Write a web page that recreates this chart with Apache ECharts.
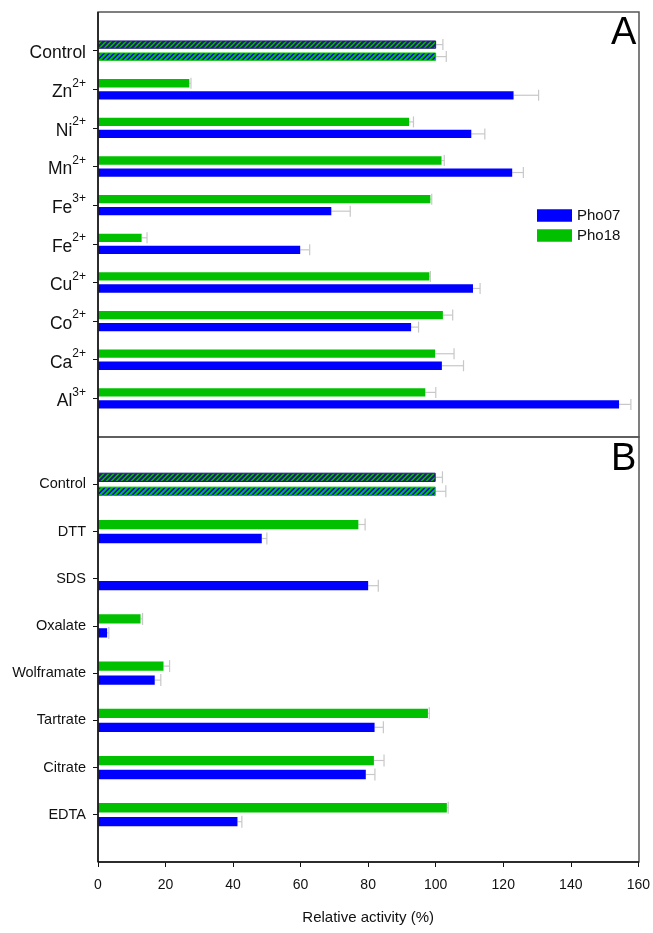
<!DOCTYPE html>
<html>
<head>
<meta charset="utf-8">
<script src="https://cdn.jsdelivr.net/npm/echarts@6/dist/echarts.min.js"></script>
<style>
html,body{margin:0;padding:0;background:#fff;}
#chart{width:653px;height:933px;}
</style>
</head>
<body>
<div id="chart"></div>
<script>
// ---- Data ----
var catsA = ['Control', 'Zn2+', 'Ni2+', 'Mn2+', 'Fe3+', 'Fe2+', 'Cu2+', 'Co2+', 'Ca2+', 'Al3+'];
var pho07A = [100, 122.9, 110.4, 122.5, 69.0, 59.8, 110.9, 92.6, 101.7, 154.1];
var pho07AErr = [3, 7.4, 4.0, 3.3, 5.6, 2.8, 2.1, 2.2, 6.4, 3.5];
var pho18A = [100, 27.0, 92.0, 101.6, 98.3, 12.9, 98.0, 102.0, 99.7, 96.8];
var pho18AErr = [2, 0.5, 1.3, 0.8, 0.4, 1.6, 0.3, 2.9, 5.6, 3.1];

var catsB = ['Control', 'DTT', 'SDS', 'Oxalate', 'Wolframate', 'Tartrate', 'Citrate', 'EDTA'];
var pho07B = [100, 48.5, 80.0, 2.7, 16.8, 81.9, 79.3, 41.3];
var pho07BErr = [3, 1.5, 3.0, 0.5, 1.8, 2.6, 2.7, 1.3];
var pho18B = [100, 77.1, null, 12.6, 19.4, 97.7, 81.7, 103.3];
var pho18BErr = [2, 2.0, null, 0.6, 1.8, 0.4, 3.0, 0.4];

var xTicks = [0, 20, 40, 60, 80, 100, 120, 140, 160];

// ---- Styles ----
var BLUE = '#0000ff', GREEN = '#00c000', NAVY = '#1c1c7a';
var FONT = 'Liberation Sans, Arial, sans-serif';

function hatch(bg, fg) {
  var c = document.createElement('canvas');
  c.width = 5; c.height = 5;
  var g = c.getContext('2d');
  g.fillStyle = bg; g.fillRect(0, 0, 5, 5);
  g.strokeStyle = fg; g.lineWidth = 2;
  g.beginPath();
  g.moveTo(-1, 6); g.lineTo(6, -1);
  g.moveTo(-6, 6); g.lineTo(1, -1);
  g.moveTo(4, 6); g.lineTo(11, -1);
  g.stroke();
  return { image: c, repeat: 'repeat' };
}

function barData(vals, isGreen) {
  return vals.map(function (v, i) {
    if (v === null) return '-';
    if (i === 0) {
      return {
        value: v,
        itemStyle: isGreen
          ? { color: hatch(GREEN, NAVY), borderColor: NAVY, borderWidth: 1 }
          : { color: hatch(BLUE, GREEN), borderColor: GREEN, borderWidth: 1 }
      };
    }
    return v;
  });
}

function errData(vals, errs) {
  var out = [];
  vals.forEach(function (v, i) {
    if (v !== null && errs[i] !== null) out.push([v, i, errs[i]]);
  });
  return out;
}

function errSeries(name, vals, errs, axisIdx, off, cap) {
  return {
    type: 'custom',
    name: name + ' err',
    xAxisIndex: axisIdx, yAxisIndex: axisIdx,
    silent: true, z: 1,
    data: errData(vals, errs),
    renderItem: function (params, api) {
      var v = api.value(0), c = api.value(1), e = api.value(2);
      var p0 = api.coord([v, c]);
      var p1 = api.coord([v + e, c]);
      var y = p0[1] + off;
      var st = { stroke: '#c8c8c8', lineWidth: 1.2 };
      return {
        type: 'group',
        children: [
          { type: 'line', shape: { x1: p0[0], y1: y, x2: p1[0], y2: y }, style: st },
          { type: 'line', shape: { x1: p1[0], y1: y - cap / 2, x2: p1[0], y2: y + cap / 2 }, style: st }
        ]
      };
    }
  };
}

function supFmt(v) {
  var m = /^([A-Za-z]+)(\d\+)$/.exec(v);
  if (m) return '{b|' + m[1] + '}{s|' + m[2] + '}';
  return '{b|' + v + '}';
}

var chart = echarts.init(document.getElementById('chart'), null, { renderer: 'canvas' });

var option = {
  backgroundColor: '#fff',
  animation: false,
  textStyle: { fontFamily: FONT },
  legend: {
    data: ['Pho07', 'Pho18'],
    orient: 'vertical',
    left: 532, top: 203,
    itemWidth: 35, itemHeight: 12.5, itemGap: 5,
    icon: 'rect',
    textStyle: { fontSize: 15, color: '#111', fontFamily: FONT }
  },
  grid: [
    { left: 98, width: 541, top: 31.3, height: 386.4, containLabel: false },
    { left: 98, width: 541, top: 460.7, height: 377.6, containLabel: false }
  ],
  xAxis: [
    {
      gridIndex: 0, type: 'value', min: 0, max: 160, interval: 20,
      show: false, splitLine: { show: false }
    },
    {
      gridIndex: 1, type: 'value', min: 0, max: 160, interval: 20,
      position: 'bottom', offset: 23.7,
      name: 'Relative activity (%)', nameLocation: 'middle', nameGap: 48,
      nameTextStyle: { fontSize: 15, color: '#111', fontFamily: FONT },
      axisLine: { show: false },
      axisTick: { show: true, length: 5, inside: false, lineStyle: { color: '#111', width: 1 } },
      axisLabel: {
        fontSize: 14, color: '#111', margin: 16, fontFamily: FONT,
        formatter: function (v) { return xTicks.indexOf(v) >= 0 ? String(v) : ''; }
      },
      splitLine: { show: false }
    }
  ],
  yAxis: [
    {
      gridIndex: 0, type: 'category', data: catsA, inverse: true,
      axisLine: { show: false },
      axisTick: { show: true, alignWithLabel: true, length: 5, lineStyle: { color: '#111' } },
      axisLabel: {
        margin: 12, color: '#111', formatter: supFmt,
        rich: {
          b: { fontSize: 17.5, fontFamily: FONT, color: '#111', lineHeight: 24, verticalAlign: 'bottom' },
          s: { fontSize: 12, fontFamily: FONT, color: '#111', lineHeight: 24, verticalAlign: 'top', padding: [0, 0, 0, 0] }
        }
      },
      splitLine: { show: false }
    },
    {
      gridIndex: 1, type: 'category', data: catsB, inverse: true,
      axisLine: { show: false },
      axisTick: { show: true, alignWithLabel: true, length: 5, lineStyle: { color: '#111' } },
      axisLabel: { margin: 12, color: '#111', fontSize: 14.5, fontFamily: FONT },
      splitLine: { show: false }
    }
  ],
  series: [
    { type: 'bar', name: 'Pho18', xAxisIndex: 0, yAxisIndex: 0, data: barData(pho18A, true),
      itemStyle: { color: GREEN }, barWidth: 8.3, barGap: '45%', z: 2 },
    { type: 'bar', name: 'Pho07', xAxisIndex: 0, yAxisIndex: 0, data: barData(pho07A, false),
      itemStyle: { color: BLUE }, barWidth: 8.3, barGap: '45%', z: 2 },
    { type: 'bar', name: 'Pho18', xAxisIndex: 1, yAxisIndex: 1, data: barData(pho18B, true),
      itemStyle: { color: GREEN }, barWidth: 9.3, barGap: '50%', z: 2 },
    { type: 'bar', name: 'Pho07', xAxisIndex: 1, yAxisIndex: 1, data: barData(pho07B, false),
      itemStyle: { color: BLUE }, barWidth: 9.3, barGap: '50%', z: 2 },
    errSeries('Pho18', pho18A, pho18AErr, 0, -6, 11),
    errSeries('Pho07', pho07A, pho07AErr, 0, 6, 11),
    errSeries('Pho18', pho18B, pho18BErr, 1, -7, 12),
    errSeries('Pho07', pho07B, pho07BErr, 1, 7, 12)
  ],
  graphic: [
    { type: 'rect', shape: { x: 98, y: 12, width: 541, height: 425 }, style: { fill: null, stroke: '#555', lineWidth: 1.5 }, z: 10, silent: true },
    { type: 'rect', shape: { x: 98, y: 437, width: 541, height: 425 }, style: { fill: null, stroke: '#555', lineWidth: 1.5 }, z: 10, silent: true },
    { type: 'line', shape: { x1: 98, y1: 12, x2: 98, y2: 862 }, style: { stroke: '#111', lineWidth: 1.5 }, z: 11, silent: true },
    { type: 'line', shape: { x1: 98, y1: 862, x2: 639, y2: 862 }, style: { stroke: '#111', lineWidth: 1.5 }, z: 11, silent: true },
    { type: 'text', left: 611, top: 15, style: { text: 'A', font: '38px ' + FONT, fill: '#000' }, z: 12 },
    { type: 'text', left: 611, top: 441, style: { text: 'B', font: '38px ' + FONT, fill: '#000' }, z: 12 }
  ]
};

chart.setOption(option);
</script>
</body>
</html>
